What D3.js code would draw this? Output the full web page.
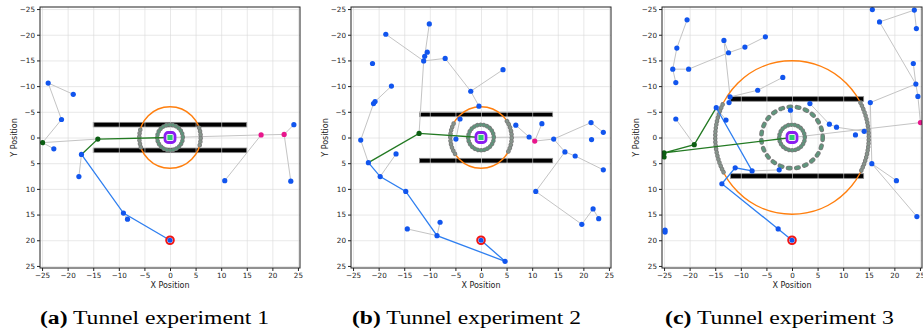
<!DOCTYPE html>
<html>
<head>
<meta charset="utf-8">
<script src="https://cdn.jsdelivr.net/npm/d3@7"></script>
<style>
  body { margin: 0; background: #fff; }
  svg { display: block; }
</style>
</head>
<body>
<svg id="fig" width="923" height="331"></svg>
<script>
// ---- shared axis data ----
const axisTicks = [-25, -20, -15, -10, -5, 0, 5, 10, 15, 20, 25];
const axisDomain = [-25.4, 25.4];
const captionLetters = ['(a)', '(b)', '(c)'];
const captionTexts = ['Tunnel experiment 1', 'Tunnel experiment 2', 'Tunnel experiment 3'];
const startPoint = [0, 20];
const goalPoint = [0, 0];

// ---- experiment 1 ----
const exp1Nodes = [[-23.8,-10.6],[-18.9,-8.4],[-21.2,-3.5],[-22.7,2.2],[-17.3,3.3],[-17.8,7.6],
  [-9.1,14.7],[-8.3,15.9],[10.7,8.4],[24.2,-2.5],[23.6,8.5]];
const exp1DarkGreen = [[-24.9,1.0],[-14.1,0.3]];
const exp1Magenta = [[17.8,-0.5],[22.3,-0.6]];
const exp1Branches = [
  [[-18.9,-8.4],[-23.8,-10.6],[-21.2,-3.5],[-24.9,1.0],[-22.7,2.2]],
  [[-24.9,1.0],[-14.1,0.3]],
  [[-17.3,3.3],[-17.8,7.6]],
  [[-9.1,14.7],[-8.3,15.9]],
  [[0,0],[17.8,-0.5],[22.3,-0.6],[24.2,-2.5]],
  [[17.8,-0.5],[10.7,8.4]],
  [[22.3,-0.6],[23.6,8.5]]
];
const exp1BluePath = [[0,20],[-9.1,14.7],[-17.3,3.3]];
const exp1GreenPath = [[-17.3,3.3],[-14.1,0.3],[0,0]];
const exp1WallX = [-15, 15];
const exp1WallY = [-2.5, 2.5];
const exp1Radius = 6;
const exp1Rings = [2.5];
const exp1ArcHalf = 1.9;

// ---- experiment 2 ----
const exp2Nodes = [[-10.1,-22.1],[-18.6,-20.1],[-21.2,-14.4],[-10.5,-16.6],[-11.0,-15.8],[-11.2,-14.9],
  [-7.0,-15.4],[4.3,-13.2],[-2.0,-9.0],[-0.4,-6.1],[-17.5,-10.0],[-20.7,-7.0],[-21.0,-6.6],
  [-23.5,0.5],[-22.0,4.9],[-16.6,3.2],[-19.7,7.6],[-14.7,10.5],[-14.4,17.8],[-8.0,16.5],
  [-8.6,19.1],[4.7,24.1],[-4.1,-3.6],[-4.9,0.3],[6.8,-2.4],[9.4,-0.1],[11.9,-2.7],[14.2,0.3],
  [21.5,-2.9],[23.9,-1.0],[21.6,0.4],[16.4,2.8],[18.4,3.6],[23.9,6.3],[10.7,10.5],[19.7,16.9],
  [21.9,13.9],[23.0,15.8]];
const exp2DarkGreen = [[-12.1,-0.8]];
const exp2Magenta = [[10.5,0.7]];
const exp2Branches = [
  [[-18.6,-20.1],[-11.2,-14.9],[-11.0,-15.8],[-10.1,-22.1]],
  [[-11.0,-15.8],[-10.5,-16.6]],
  [[-11.2,-14.9],[-7.0,-15.4],[-2.0,-9.0],[4.3,-13.2]],
  [[-2.0,-9.0],[-0.4,-6.1]],
  [[-11.2,-14.9],[-12.1,-0.8]],
  [[-17.5,-10.0],[-20.7,-7.0]],
  [[-21.0,-6.6],[-23.5,0.5],[-22.0,4.9]],
  [[-19.7,7.6],[-16.6,3.2]],
  [[-14.4,17.8],[-8.6,19.1],[-8.0,16.5]],
  [[-4.1,-3.6],[-4.9,0.3]],
  [[0,0],[9.4,-0.1],[10.5,0.7],[14.2,0.3],[21.5,-2.9],[23.9,-1.0]],
  [[6.8,-2.4],[9.4,-0.1]],
  [[10.5,0.7],[11.9,-2.7]],
  [[14.2,0.3],[16.4,2.8],[18.4,3.6],[23.9,6.3]],
  [[16.4,2.8],[10.7,10.5],[19.7,16.9],[21.9,13.9],[23.0,15.8]]
];
const exp2BluePath = [[0,20],[4.7,24.1],[-8.6,19.1],[-14.7,10.5],[-19.7,7.6],[-22.0,4.9]];
const exp2GreenPath = [[-22.0,4.9],[-12.1,-0.8],[0,0]];
const exp2WallX = [-12, 14];
const exp2WallY = [-4.5, 4.5];
const exp2Radius = 6;
const exp2Rings = [2.5];
const exp2ArcHalf = 3.2;

// ---- experiment 3 ----
const exp3Nodes = [[-20.5,-22.9],[-22.5,-17.4],[-23.3,-13.3],[-20.2,-13.3],[-22.7,-10.7],[-13.3,-18.9],
  [-12.4,-16.5],[-9.2,-17.6],[-5.2,-19.6],[-1.8,-11.7],[-6.7,-9.2],[-12.1,-7.9],[-12.3,-6.8],
  [-14.8,-5.8],[-12.9,-3.4],[-22.7,-3.6],[-24.8,18.0],[-24.8,18.4],[-11.1,5.9],[-7.8,6.5],
  [-2.5,6.3],[-13.7,9.0],[-2.7,17.8],[-0.3,-5.3],[3.5,-6.6],[7.3,-2.6],[8.7,-2.0],[12.4,-0.5],
  [14.1,-1.2],[15.3,-6.8],[15.6,5.1],[20.4,8.4],[24.4,15.4],[24.6,-8.0],[24.2,-10.4],[23.7,-14.4],
  [24.3,-21.2],[23.9,-24.8],[17.1,-22.5],[15.7,-24.9]];
const exp3DarkGreen = [[-19.1,1.4],[-25.0,3.0],[-25.0,3.8]];
const exp3Magenta = [[25.1,-2.9]];
const exp3Branches = [
  [[-20.5,-22.9],[-22.5,-17.4],[-23.3,-13.3],[-20.2,-13.3],[-12.4,-16.5],[-9.2,-17.6],[-5.2,-19.6]],
  [[-23.3,-13.3],[-22.7,-10.7]],
  [[-12.4,-16.5],[-13.3,-18.9],[-12.1,-7.9],[-6.7,-9.2],[-1.8,-11.7]],
  [[-12.1,-7.9],[-12.3,-6.8]],
  [[-14.8,-5.8],[-12.9,-3.4]],
  [[-22.7,-3.6],[-19.1,1.4]],
  [[-25.0,3.8],[-24.8,18.0],[-24.8,18.4]],
  [[-7.8,6.5],[-2.5,6.3]],
  [[-0.3,-5.3],[-0.1,-3.0]],
  [[3.5,-6.6],[7.3,-2.6],[8.7,-2.0],[14.1,-1.2]],
  [[0,0],[25.1,-2.9]],
  [[15.6,5.1],[15.3,-6.8],[24.2,-10.4],[17.1,-22.5],[23.9,-24.8],[24.3,-21.2]],
  [[24.2,-10.4],[23.7,-14.4]],
  [[24.2,-10.4],[24.6,-8.0],[25.1,-2.9]],
  [[15.6,5.1],[20.4,8.4]],
  [[15.6,5.1],[24.4,15.4]]
];
const exp3BluePath = [[0,20],[-2.7,17.8],[-13.7,9.0],[-11.1,5.9],[-7.8,6.5],[-14.8,-5.8]];
const exp3GreenPath = [[-14.8,-5.8],[-19.1,1.4],[-25.0,3.0],[0,0]];
const exp3GreenStub = [[-25.0,3.0],[-25.0,3.8]];
const exp3WallX = [-12, 14];
const exp3WallY = [-7.5, 7.5];
const exp3Radius = 15;
const exp3Rings = [2.5, 6];
const exp3ArcHalf = 6.8;

const experiments = [
  { nodes: exp1Nodes, dark: exp1DarkGreen, magenta: exp1Magenta, branches: exp1Branches,
    blue: exp1BluePath, green: [exp1GreenPath], wallX: exp1WallX, wallY: exp1WallY,
    radius: exp1Radius, rings: exp1Rings, arcHalf: exp1ArcHalf },
  { nodes: exp2Nodes, dark: exp2DarkGreen, magenta: exp2Magenta, branches: exp2Branches,
    blue: exp2BluePath, green: [exp2GreenPath], wallX: exp2WallX, wallY: exp2WallY,
    radius: exp2Radius, rings: exp2Rings, arcHalf: exp2ArcHalf },
  { nodes: exp3Nodes, dark: exp3DarkGreen, magenta: exp3Magenta, branches: exp3Branches,
    blue: exp3BluePath, green: [exp3GreenPath, exp3GreenStub], wallX: exp3WallX, wallY: exp3WallY,
    radius: exp3Radius, rings: exp3Rings, arcHalf: exp3ArcHalf }
];

const svg = d3.select('#fig');
const panelLeft = [40, 351, 662];
const panelTop = 7;
const W = 260, H = 261;

experiments.forEach((ex, i) => drawPanel(ex, i));

function ringStroke(sel, dash, gap) {
  // dotted ring: gray rim under a sea-green core
  sel.append('path').attr('class', 'rim')
    .style('fill', 'none').style('stroke', '#7a7a7a').style('stroke-width', 4.6)
    .style('stroke-linecap', 'round').style('stroke-dasharray', dash + ' ' + gap);
  sel.append('path').attr('class', 'core')
    .style('fill', 'none').style('stroke', '#5f957c').style('stroke-width', 3)
    .style('stroke-linecap', 'round').style('stroke-dasharray', dash + ' ' + gap);
}

function drawPanel(ex, i) {
  const g = svg.append('g').attr('transform', 'translate(' + panelLeft[i] + ',' + panelTop + ')');
  const x = d3.scaleLinear().domain(axisDomain).range([0, W]);
  const y = d3.scaleLinear().domain(axisDomain).range([0, H]);
  const pxPerUnit = x(1) - x(0);

  g.append('clipPath').attr('id', 'clip' + i)
    .append('rect').attr('width', W).attr('height', H);
  const plot = g.append('g').attr('clip-path', 'url(#clip' + i + ')');

  // tunnel walls
  plot.selectAll('rect.wall')
    .data(ex.wallY)
    .enter().append('rect')
    .attr('class', 'wall')
    .attr('x', x(ex.wallX[0]))
    .attr('width', x(ex.wallX[1]) - x(ex.wallX[0]))
    .attr('y', d => y(d) - 2.3)
    .attr('height', 4.6)
    .style('fill', '#000')
    .style('stroke', '#8a8a8a')
    .style('stroke-width', 0.8);

  // grid (drawn over the walls, as in the original)
  plot.append('g')
    .call(d3.axisBottom(x).tickValues(axisTicks).tickSize(H).tickFormat(() => ''))
    .call(a => a.select('.domain').remove())
    .selectAll('line').style('stroke', '#d9d9d9').style('stroke-opacity', 0.6);
  plot.append('g')
    .call(d3.axisRight(y).tickValues(axisTicks).tickSize(W).tickFormat(() => ''))
    .call(a => a.select('.domain').remove())
    .selectAll('line').style('stroke', '#d9d9d9').style('stroke-opacity', 0.6);

  const line = d3.line().x(d => x(d[0])).y(d => y(d[1]));

  // tree branches
  plot.selectAll('path.branch')
    .data(ex.branches)
    .enter().append('path')
    .attr('class', 'branch')
    .attr('d', line)
    .style('fill', 'none')
    .style('stroke', '#c4c4c4')
    .style('stroke-width', 1);

  // orange circle
  plot.append('circle')
    .attr('cx', x(0)).attr('cy', y(0))
    .attr('r', ex.radius * pxPerUnit)
    .style('fill', 'none')
    .style('stroke', '#ff7f0e')
    .style('stroke-width', 1.5);

  // rings around the goal
  ex.rings.forEach(r => {
    const rg = plot.append('g');
    if (r > 3) ringStroke(rg, 2.4, 5.9); else ringStroke(rg, 0.1, 3.2);
    const p = d3.path();
    p.arc(x(0), y(0), r * pxPerUnit, 0, 2 * Math.PI);
    rg.selectAll('path').attr('d', p.toString());
  });

  // dots on the big circle inside the tunnel
  const a = Math.asin(ex.arcHalf / ex.radius);
  [[-a, a], [Math.PI - a, Math.PI + a]].forEach(([a0, a1]) => {
    const ag = plot.append('g');
    ringStroke(ag, 0.1, 3.4);
    const p = d3.path();
    p.arc(x(0), y(0), ex.radius * pxPerUnit, a0, a1);
    ag.selectAll('path').attr('d', p.toString());
    ag.select('.core').style('stroke', '#86948b');
  });

  // path lines
  plot.append('path')
    .attr('d', line(ex.blue))
    .style('fill', 'none').style('stroke', '#2f7ff0').style('stroke-width', 1.3);
  ex.green.forEach(gp => {
    plot.append('path')
      .attr('d', line(gp))
      .style('fill', 'none').style('stroke', '#237a23').style('stroke-width', 1.3);
  });

  // nodes
  const dots = (data, color) => plot.append('g').selectAll('circle')
    .data(data).enter().append('circle')
    .attr('cx', d => x(d[0])).attr('cy', d => y(d[1]))
    .attr('r', 2.6)
    .style('fill', color);
  dots(ex.nodes, '#1155ee');
  dots(ex.dark, '#0b5e12');
  dots(ex.magenta, '#e8168c');

  // start marker
  plot.append('circle')
    .attr('cx', x(startPoint[0])).attr('cy', y(startPoint[1]))
    .attr('r', 3.8)
    .style('fill', 'none').style('stroke', '#f01616').style('stroke-width', 2);
  plot.append('circle')
    .attr('cx', x(startPoint[0])).attr('cy', y(startPoint[1]))
    .attr('r', 2.5).style('fill', '#1155ee');

  // goal marker
  plot.append('rect')
    .attr('x', x(goalPoint[0]) - 5).attr('y', y(goalPoint[1]) - 5)
    .attr('width', 10).attr('height', 10).attr('rx', 3)
    .style('fill', '#fff').style('stroke', '#8a1ef0').style('stroke-width', 2.8);
  plot.append('rect')
    .attr('x', x(goalPoint[0]) - 2.6).attr('y', y(goalPoint[1]) - 2.6)
    .attr('width', 5.2).attr('height', 5.2)
    .style('fill', '#2ecc71');

  // axes
  const xAxis = g.append('g')
    .attr('transform', 'translate(0,' + H + ')')
    .call(d3.axisBottom(x).tickValues(axisTicks).tickSize(3).tickPadding(1.5));
  const yAxis = g.append('g')
    .call(d3.axisLeft(y).tickValues(axisTicks).tickSize(3).tickPadding(2));
  [xAxis, yAxis].forEach(ax => {
    ax.select('.domain').remove();
    ax.selectAll('line').style('stroke', '#222');
    ax.selectAll('text')
      .style('font-family', 'DejaVu Sans, sans-serif')
      .style('font-size', '7.2px')
      .style('fill', '#222');
  });

  // frame
  g.append('rect')
    .attr('width', W).attr('height', H)
    .style('fill', 'none').style('stroke', '#222').style('stroke-width', 1);

  // axis titles
  g.append('text')
    .attr('x', W / 2).attr('y', 281)
    .attr('text-anchor', 'middle')
    .style('font-family', 'DejaVu Sans, sans-serif').style('font-size', '8px').style('fill', '#222')
    .text('X Position');
  g.append('text')
    .attr('transform', 'translate(-23.5,' + H / 2 + ') rotate(-90)')
    .attr('text-anchor', 'middle')
    .style('font-family', 'DejaVu Sans, sans-serif').style('font-size', '8px').style('fill', '#222')
    .text('Y Position');

  // caption
  const cap = svg.append('text')
    .attr('x', panelLeft[i] + (i === 2 ? 3 : i === 1 ? 1 : 0))
    .attr('y', 324)
    .attr('textLength', 229)
    .attr('lengthAdjust', 'spacingAndGlyphs')
    .style('font-family', 'Liberation Serif, serif')
    .style('font-size', '18px')
    .style('fill', '#000');
  cap.append('tspan').style('font-weight', 'bold').text(captionLetters[i]);
  cap.append('tspan').text(' ' + captionTexts[i]);
}
</script>
</body>
</html>
